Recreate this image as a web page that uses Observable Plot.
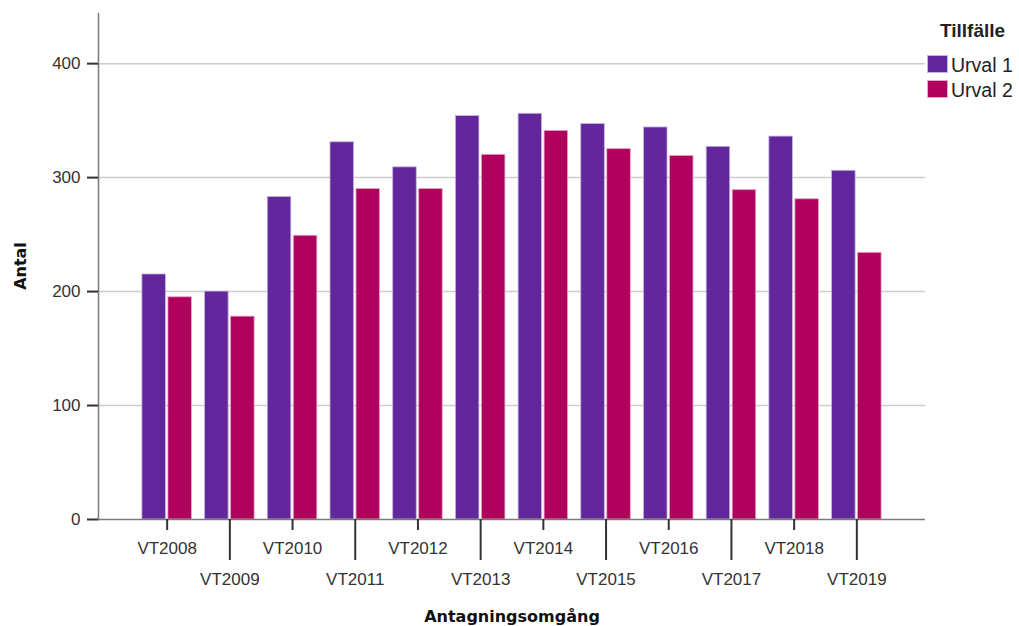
<!DOCTYPE html>
<html>
<head>
<meta charset="utf-8">
<script src="https://cdn.jsdelivr.net/npm/d3@7"></script>
<script src="https://cdn.jsdelivr.net/npm/@observablehq/plot@0.6"></script>
<style>
  body { margin: 0; background: #fff; }
  #wrap { position: relative; width: 1019px; height: 626px; overflow: hidden; background: #fff; }
  .title { position: absolute; font-family: "DejaVu Sans", sans-serif; font-weight: bold; font-size: 16px; color: #111; white-space: nowrap; }
  #legend { position: absolute; left: 926px; top: 0; font-family: "Liberation Sans", Arial, sans-serif; color: #222; }
  #legend .lt { position: absolute; left: 14px; top: 20px; font-weight: bold; font-size: 19px; white-space: nowrap; }
  #legend .row { position: absolute; left: 2px; height: 20px; white-space: nowrap; font-size: 19.5px; line-height: 20px; }
  #legend .sw { display: inline-block; width: 19px; height: 16px; vertical-align: top; margin-top: 1px; margin-right: 4px; }
</style>
</head>
<body>
<div id="wrap"></div>
<script>
// ---- data ----
const years = ["VT2008","VT2009","VT2010","VT2011","VT2012","VT2013","VT2014","VT2015","VT2016","VT2017","VT2018","VT2019"];
const urval1 = [215, 200, 283, 331, 309, 354, 356, 347, 344, 327, 336, 306];
const urval2 = [195, 178, 249, 290, 290, 320, 341, 325, 319, 289, 281, 234];
const seriesNames = ["Urval 1", "Urval 2"];
const seriesColors = ["#62289b", "#b0005e"];
const yTicks = [0, 100, 200, 300, 400];
const yMax = 444;
const legendTitle = "Tillfälle";
const yTitle = "Antal";
const xTitle = "Antagningsomgång";

// ---- build table ----
const data = years.flatMap((yr, i) => [
  {year: yr, serie: seriesNames[0], value: urval1[i]},
  {year: yr, serie: seriesNames[1], value: urval2[i]}
]);
const evenYears = years.filter((d, i) => i % 2 === 0);
const oddYears = years.filter((d, i) => i % 2 === 1);

const barHalfInset = 26; // pushes each bar to one half of the group band

const chart = Plot.plot({
  width: 1019,
  height: 626,
  marginLeft: 98,
  marginRight: 94,
  marginTop: 13,
  marginBottom: 107,
  style: {fontFamily: "Liberation Sans, Arial, sans-serif", fontSize: "17px", color: "#222", background: "transparent"},
  x: {domain: years, paddingInner: 0.21, paddingOuter: 0.70, round: false, label: null},
  y: {domain: [0, yMax], label: null},
  color: {domain: seriesNames, range: seriesColors},
  marks: [
    Plot.ruleY(yTicks.filter(d => d > 0), {stroke: "#cdcdcd", strokeWidth: 1.5}),
    Plot.barY(data.filter(d => d.serie === seriesNames[0]), {x: "year", y: "value", fill: "serie", insetRight: barHalfInset, stroke: "#c4b3e0", strokeWidth: 0.8}),
    Plot.barY(data.filter(d => d.serie === seriesNames[1]), {x: "year", y: "value", fill: "serie", insetLeft: barHalfInset, stroke: "#e8a6c8", strokeWidth: 0.8}),
    Plot.ruleY([0], {stroke: "#7a7a7a", strokeWidth: 1.5}),
    Plot.frame({anchor: "left", stroke: "#7a7a7a", strokeWidth: 1.5}),
    Plot.axisY({ticks: yTicks, tickSize: 11, tickPadding: 7, label: null, fontSize: 17, color: "#333", strokeWidth: 2}),
    Plot.axisX({ticks: evenYears, tickSize: 11, tickPadding: 11, label: null, fontSize: 17, color: "#333", strokeWidth: 2}),
    Plot.axisX({ticks: oddYears, tickSize: 41, tickPadding: 12, label: null, fontSize: 17, color: "#333", strokeWidth: 2})
  ]
});

const wrap = document.getElementById("wrap");
wrap.appendChild(chart);

// axis titles
const yt = document.createElement("div");
yt.className = "title";
yt.textContent = yTitle;
yt.style.left = "20px";
yt.style.top = "266px";
yt.style.transform = "translate(-50%, -50%) rotate(-90deg)";
wrap.appendChild(yt);

const xt = document.createElement("div");
xt.className = "title";
xt.textContent = xTitle;
xt.style.left = "512px";
xt.style.top = "616px";
xt.style.transform = "translate(-50%, -50%)";
wrap.appendChild(xt);

// legend
const lg = document.createElement("div");
lg.id = "legend";
const lt = document.createElement("div");
lt.className = "lt";
lt.textContent = legendTitle;
lg.appendChild(lt);
seriesNames.forEach((s, i) => {
  const row = document.createElement("div");
  row.className = "row";
  row.style.top = (55 + i * 25) + "px";
  const sw = document.createElement("span");
  sw.className = "sw";
  sw.style.background = seriesColors[i];
  sw.style.outline = "1px solid " + (i === 0 ? "#c4b3e0" : "#e8a6c8");
  row.appendChild(sw);
  row.appendChild(document.createTextNode(s));
  lg.appendChild(row);
});
wrap.appendChild(lg);
</script>
</body>
</html>
